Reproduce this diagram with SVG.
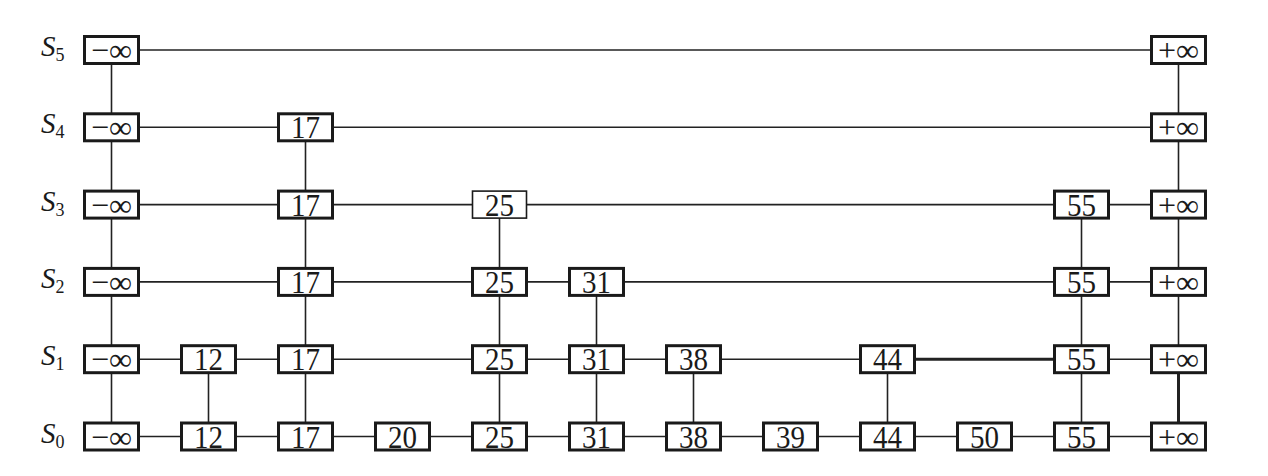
<svg xmlns="http://www.w3.org/2000/svg" width="1268" height="476" viewBox="0 0 1268 476">
<style>
.bg{fill:#ffffff}
.c{stroke:#222;stroke-width:1.6;fill:none}
.ct{stroke:#222;stroke-width:3;fill:none}
.b{fill:#fff;stroke:#1a1a1a;stroke-width:3}
.bt{fill:#fff;stroke:#1a1a1a;stroke-width:1.6}
.t{font-family:"Liberation Serif","Times New Roman",serif;font-size:32px;fill:#1a1a1a;text-anchor:middle}
.s{font-family:"Liberation Serif","Times New Roman",serif;font-size:29px;font-style:italic;fill:#1a1a1a}
.sub{font-size:18px;font-style:normal}
</style>
<rect class="bg" x="0" y="0" width="1268" height="476"/>
<g id="labels">
<text class="s" x="41" y="56">S<tspan class="sub" dy="5">5</tspan></text>
<text class="s" x="41" y="133.3">S<tspan class="sub" dy="5">4</tspan></text>
<text class="s" x="41" y="210.6">S<tspan class="sub" dy="5">3</tspan></text>
<text class="s" x="41" y="287.9">S<tspan class="sub" dy="5">2</tspan></text>
<text class="s" x="41" y="365.2">S<tspan class="sub" dy="5">1</tspan></text>
<text class="s" x="41" y="442.5">S<tspan class="sub" dy="5">0</tspan></text>
</g>
<g id="connectors">
<line class="c" x1="111.5" y1="50" x2="1178.5" y2="50"/>
<line class="c" x1="111.5" y1="127.3" x2="1178.5" y2="127.3"/>
<line class="c" x1="111.5" y1="204.6" x2="1178.5" y2="204.6"/>
<line class="c" x1="111.5" y1="281.9" x2="1178.5" y2="281.9"/>
<line class="c" x1="111.5" y1="359.2" x2="887.5" y2="359.2"/>
<line class="ct" x1="887.5" y1="359.2" x2="1081.5" y2="359.2"/>
<line class="c" x1="1081.5" y1="359.2" x2="1178.5" y2="359.2"/>
<line class="c" x1="111.5" y1="436.5" x2="1178.5" y2="436.5"/>
<line class="c" x1="111.5" y1="50" x2="111.5" y2="436.5"/>
<line class="c" x1="208.5" y1="359.2" x2="208.5" y2="436.5"/>
<line class="c" x1="305.5" y1="127.3" x2="305.5" y2="436.5"/>
<line class="c" x1="499.5" y1="204.6" x2="499.5" y2="436.5"/>
<line class="c" x1="596.5" y1="281.9" x2="596.5" y2="436.5"/>
<line class="c" x1="693.5" y1="359.2" x2="693.5" y2="436.5"/>
<line class="c" x1="887.5" y1="359.2" x2="887.5" y2="436.5"/>
<line class="c" x1="1081.5" y1="204.6" x2="1081.5" y2="436.5"/>
<line class="c" x1="1178.5" y1="50" x2="1178.5" y2="359.2"/>
<line class="ct" x1="1178.5" y1="359.2" x2="1178.5" y2="436.5"/>
</g>
<g id="level5">
<g id="n5-ninf"><rect class="b" x="84.5" y="36.5" width="54" height="27"/><text class="t" x="111.5" y="61">−∞</text></g>
<g id="n5-pinf"><rect class="b" x="1151.5" y="36.5" width="54" height="27"/><text class="t" x="1178.5" y="61">+∞</text></g>
</g>
<g id="level4">
<g id="n4-ninf"><rect class="b" x="84.5" y="113.8" width="54" height="27"/><text class="t" x="111.5" y="138.3">−∞</text></g>
<g id="n4-17"><rect class="b" x="278.5" y="113.8" width="54" height="27"/><text class="t" x="305.5" y="138.3" textLength="29" lengthAdjust="spacingAndGlyphs">17</text></g>
<g id="n4-pinf"><rect class="b" x="1151.5" y="113.8" width="54" height="27"/><text class="t" x="1178.5" y="138.3">+∞</text></g>
</g>
<g id="level3">
<g id="n3-ninf"><rect class="b" x="84.5" y="191.1" width="54" height="27"/><text class="t" x="111.5" y="215.6">−∞</text></g>
<g id="n3-17"><rect class="b" x="278.5" y="191.1" width="54" height="27"/><text class="t" x="305.5" y="215.6" textLength="29" lengthAdjust="spacingAndGlyphs">17</text></g>
<g id="n3-25"><rect class="bt" x="472.5" y="191.1" width="54" height="27"/><text class="t" x="499.5" y="215.6" textLength="29" lengthAdjust="spacingAndGlyphs">25</text></g>
<g id="n3-55"><rect class="b" x="1054.5" y="191.1" width="54" height="27"/><text class="t" x="1081.5" y="215.6" textLength="29" lengthAdjust="spacingAndGlyphs">55</text></g>
<g id="n3-pinf"><rect class="b" x="1151.5" y="191.1" width="54" height="27"/><text class="t" x="1178.5" y="215.6">+∞</text></g>
</g>
<g id="level2">
<g id="n2-ninf"><rect class="b" x="84.5" y="268.4" width="54" height="27"/><text class="t" x="111.5" y="292.9">−∞</text></g>
<g id="n2-17"><rect class="b" x="278.5" y="268.4" width="54" height="27"/><text class="t" x="305.5" y="292.9" textLength="29" lengthAdjust="spacingAndGlyphs">17</text></g>
<g id="n2-25"><rect class="b" x="472.5" y="268.4" width="54" height="27"/><text class="t" x="499.5" y="292.9" textLength="29" lengthAdjust="spacingAndGlyphs">25</text></g>
<g id="n2-31"><rect class="b" x="569.5" y="268.4" width="54" height="27"/><text class="t" x="596.5" y="292.9" textLength="29" lengthAdjust="spacingAndGlyphs">31</text></g>
<g id="n2-55"><rect class="b" x="1054.5" y="268.4" width="54" height="27"/><text class="t" x="1081.5" y="292.9" textLength="29" lengthAdjust="spacingAndGlyphs">55</text></g>
<g id="n2-pinf"><rect class="b" x="1151.5" y="268.4" width="54" height="27"/><text class="t" x="1178.5" y="292.9">+∞</text></g>
</g>
<g id="level1">
<g id="n1-ninf"><rect class="b" x="84.5" y="345.7" width="54" height="27"/><text class="t" x="111.5" y="370.2">−∞</text></g>
<g id="n1-12"><rect class="b" x="181.5" y="345.7" width="54" height="27"/><text class="t" x="208.5" y="370.2" textLength="29" lengthAdjust="spacingAndGlyphs">12</text></g>
<g id="n1-17"><rect class="b" x="278.5" y="345.7" width="54" height="27"/><text class="t" x="305.5" y="370.2" textLength="29" lengthAdjust="spacingAndGlyphs">17</text></g>
<g id="n1-25"><rect class="b" x="472.5" y="345.7" width="54" height="27"/><text class="t" x="499.5" y="370.2" textLength="29" lengthAdjust="spacingAndGlyphs">25</text></g>
<g id="n1-31"><rect class="b" x="569.5" y="345.7" width="54" height="27"/><text class="t" x="596.5" y="370.2" textLength="29" lengthAdjust="spacingAndGlyphs">31</text></g>
<g id="n1-38"><rect class="b" x="666.5" y="345.7" width="54" height="27"/><text class="t" x="693.5" y="370.2" textLength="29" lengthAdjust="spacingAndGlyphs">38</text></g>
<g id="n1-44"><rect class="b" x="860.5" y="345.7" width="54" height="27"/><text class="t" x="887.5" y="370.2" textLength="29" lengthAdjust="spacingAndGlyphs">44</text></g>
<g id="n1-55"><rect class="b" x="1054.5" y="345.7" width="54" height="27"/><text class="t" x="1081.5" y="370.2" textLength="29" lengthAdjust="spacingAndGlyphs">55</text></g>
<g id="n1-pinf"><rect class="b" x="1151.5" y="345.7" width="54" height="27"/><text class="t" x="1178.5" y="370.2">+∞</text></g>
</g>
<g id="level0">
<g id="n0-ninf"><rect class="b" x="84.5" y="423" width="54" height="27"/><text class="t" x="111.5" y="447.5">−∞</text></g>
<g id="n0-12"><rect class="b" x="181.5" y="423" width="54" height="27"/><text class="t" x="208.5" y="447.5" textLength="29" lengthAdjust="spacingAndGlyphs">12</text></g>
<g id="n0-17"><rect class="b" x="278.5" y="423" width="54" height="27"/><text class="t" x="305.5" y="447.5" textLength="29" lengthAdjust="spacingAndGlyphs">17</text></g>
<g id="n0-20"><rect class="b" x="375.5" y="423" width="54" height="27"/><text class="t" x="402.5" y="447.5" textLength="29" lengthAdjust="spacingAndGlyphs">20</text></g>
<g id="n0-25"><rect class="b" x="472.5" y="423" width="54" height="27"/><text class="t" x="499.5" y="447.5" textLength="29" lengthAdjust="spacingAndGlyphs">25</text></g>
<g id="n0-31"><rect class="b" x="569.5" y="423" width="54" height="27"/><text class="t" x="596.5" y="447.5" textLength="29" lengthAdjust="spacingAndGlyphs">31</text></g>
<g id="n0-38"><rect class="b" x="666.5" y="423" width="54" height="27"/><text class="t" x="693.5" y="447.5" textLength="29" lengthAdjust="spacingAndGlyphs">38</text></g>
<g id="n0-39"><rect class="b" x="763.5" y="423" width="54" height="27"/><text class="t" x="790.5" y="447.5" textLength="29" lengthAdjust="spacingAndGlyphs">39</text></g>
<g id="n0-44"><rect class="b" x="860.5" y="423" width="54" height="27"/><text class="t" x="887.5" y="447.5" textLength="29" lengthAdjust="spacingAndGlyphs">44</text></g>
<g id="n0-50"><rect class="b" x="957.5" y="423" width="54" height="27"/><text class="t" x="984.5" y="447.5" textLength="29" lengthAdjust="spacingAndGlyphs">50</text></g>
<g id="n0-55"><rect class="b" x="1054.5" y="423" width="54" height="27"/><text class="t" x="1081.5" y="447.5" textLength="29" lengthAdjust="spacingAndGlyphs">55</text></g>
<g id="n0-pinf"><rect class="b" x="1151.5" y="423" width="54" height="27"/><text class="t" x="1178.5" y="447.5">+∞</text></g>
</g>
</svg>
